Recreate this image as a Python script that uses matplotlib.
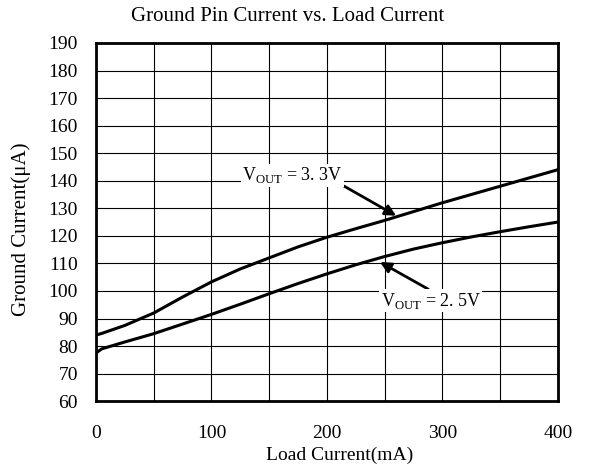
import numpy as np
import matplotlib.pyplot as plt
from matplotlib.ticker import MultipleLocator

# datos
load_ma = [0, 5, 25, 50, 75, 100, 125, 150, 175, 200, 225, 250, 275, 300, 325, 350, 375, 400]
vout_33 = [84.0, 84.6, 87.5, 92.0, 97.8, 103.3, 108.0, 112.0, 116.0, 119.5, 122.6, 125.6, 128.8, 132.0, 135.0, 138.0, 141.0, 144.0]
vout_25 = [77.5, 79.0, 81.5, 84.5, 88.0, 91.5, 95.2, 99.0, 102.7, 106.2, 109.5, 112.5, 115.2, 117.5, 119.6, 121.5, 123.3, 125.0]

serif = 'Liberation Serif'
plt.rcParams['mathtext.fontset'] = 'custom'
plt.rcParams['mathtext.rm'] = serif

fig = plt.figure(figsize=(5.89, 4.72), dpi=100)
ax = fig.add_axes([0.163, 0.150, 0.784, 0.759])

ax.plot(load_ma, vout_33, color='black', lw=2.2)
ax.plot(load_ma, vout_25, color='black', lw=2.2)

ax.set_xlim(0, 400)
ax.set_ylim(60, 190)
ax.xaxis.set_major_locator(MultipleLocator(100))
ax.xaxis.set_minor_locator(MultipleLocator(50))
ax.yaxis.set_major_locator(MultipleLocator(10))
ax.grid(True, which='both', color='black', lw=0.8)
ax.tick_params(which='both', length=0)
ax.tick_params(axis='y', pad=13)
ax.tick_params(axis='x', pad=17)
for lab in ax.get_xticklabels() + ax.get_yticklabels():
    lab.set_fontfamily(serif)
    lab.set_fontsize(14)
for s in ax.spines.values():
    s.set_linewidth(2)

fig.text(0.488, 0.964, 'Ground Pin Current vs. Load Current', family=serif, fontsize=15,
         ha='center', va='center')
fig.text(0.577, 0.036, 'Load Current(mA)', family=serif, fontsize=14, ha='center', va='center')
fig.text(0.036, 0.515, 'Ground Current(μA)', family=serif, fontsize=15, rotation=90,
         ha='center', va='center')

arrow = dict(arrowstyle='-|>', color='black', lw=2, mutation_scale=16, shrinkA=0, shrinkB=0)
ax.annotate(r'V$_{\mathrm{OUT}}$ = 3. 3V', xy=(260, 127.3), xytext=(170, 142),
            family=serif, fontsize=13, ha='center', va='center',
            bbox=dict(facecolor='white', edgecolor='none', pad=1),
            arrowprops=dict(arrow, relpos=(1.0, 0.0)))
ax.annotate(r'V$_{\mathrm{OUT}}$ = 2. 5V', xy=(246, 110.5), xytext=(290, 96.5),
            family=serif, fontsize=13, ha='center', va='center',
            bbox=dict(facecolor='white', edgecolor='none', pad=1),
            arrowprops=dict(arrow, relpos=(0.5, 1.0)))

fig.savefig('out.png', dpi=100)
